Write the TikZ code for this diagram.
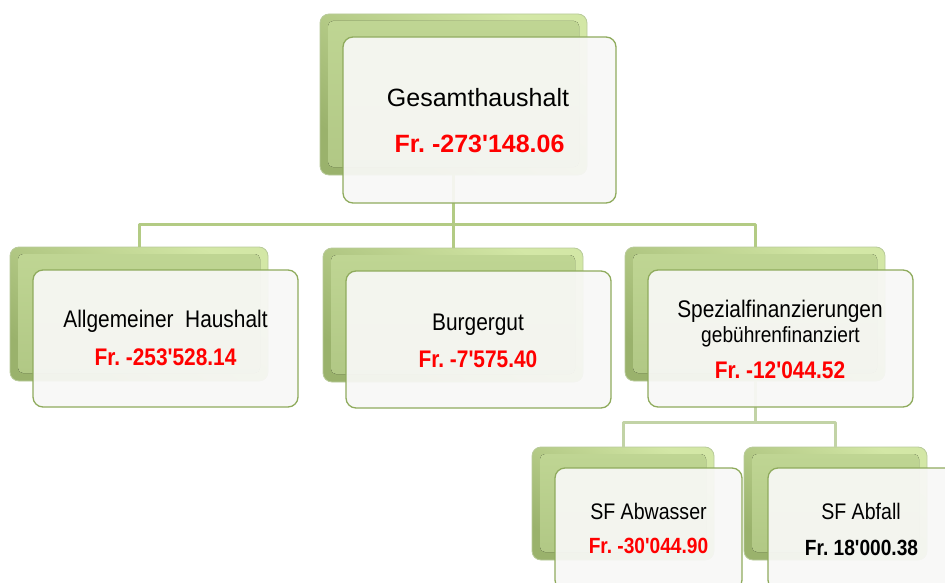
\documentclass[tikz,border=0pt]{standalone}
\usepackage{fontspec}
\setmainfont{Liberation Sans}
\newfontfamily\plain{Liberation Sans}
\newfontfamily\cond{Liberation Sans}[FakeStretch=0.87]
\frenchspacing
\definecolor{conn}{HTML}{B3CB84}
\definecolor{connb}{HTML}{C2D3A6}
\definecolor{backtop}{HTML}{D3E7A6}
\definecolor{backbot}{HTML}{9AB26C}
\definecolor{facetop}{HTML}{C0D694}
\definecolor{facebot}{HTML}{B0C784}
\definecolor{backline}{HTML}{B8CA9A}
\definecolor{frontline}{HTML}{8FAB5D}
\definecolor{frontfill}{HTML}{F8F8F6}
\definecolor{amount}{HTML}{FF0000}
\tikzset{
  backbox/.style={rectangle, rounded corners=9pt, inner sep=0pt,
    top color=backtop, bottom color=backbot, shading angle=-35,
    draw=backline, line width=0.8pt,
    path picture={\fill[top color=facetop, bottom color=facebot, rounded corners=5pt]
      ([shift={(8pt,-7pt)}]path picture bounding box.north west) rectangle
      ([shift={(-8pt,8pt)}]path picture bounding box.south east);}},
  frontbox/.style={rectangle, rounded corners=10pt, inner sep=0pt,
    fill=frontfill, fill opacity=0.93, draw=frontline, draw opacity=1,
    line width=1.3pt},
  connline/.style={draw=conn, line width=3pt, line join=round},
  connlineb/.style={draw=connb, line width=3pt, line join=round},
  lbl/.style={anchor=base, inner sep=0pt},
  toptitle/.style={lbl, font=\plain\fontsize{25}{28}\selectfont},
  topamount/.style={lbl, font=\plain\fontsize{25}{28}\selectfont\bfseries, text=amount},
  title/.style={lbl, font=\cond\fontsize{24}{28}\selectfont},
  subtitle/.style={lbl, font=\cond\fontsize{22}{26}\selectfont},
  amountm/.style={lbl, font=\cond\fontsize{24}{28}\selectfont\bfseries, text=amount},
  smtitle/.style={lbl, font=\cond\fontsize{22.5}{26}\selectfont},
  smamount/.style={lbl, font=\cond\fontsize{22}{26}\selectfont\bfseries, text=amount},
  smamountk/.style={lbl, font=\cond\fontsize{22}{26}\selectfont\bfseries, text=black},
}
\begin{document}
\begin{tikzpicture}[x=1pt,y=-1pt]
\useasboundingbox (0,0) rectangle (945,583);
\clip (0,0) rectangle (945,583);
% back boxes
\node[backbox, minimum width=267pt, minimum height=161pt] (b0) at (453.5,94.5) {};
\node[backbox, minimum width=258pt, minimum height=134pt] (b1) at (139,314) {};
\node[backbox, minimum width=260pt, minimum height=134pt] (b2) at (453,315) {};
\node[backbox, minimum width=260pt, minimum height=134pt] (b3) at (755,314) {};
\node[backbox, minimum width=182pt, minimum height=113pt] (b4) at (623,503.5) {};
\node[backbox, minimum width=183pt, minimum height=113pt] (b5) at (835.5,503.5) {};
% connectors
\coordinate (j0) at (453.5,224.5);
\coordinate (j1) at (755,422.5);
\draw[connline] (b0.south) -- (j0);
\draw[connline] (b1.north) -- (b1.north |- j0) -- (b3.north |- j0) -- (b3.north);
\draw[connline] (b2.north) -- (b2.north |- j0);
\draw[connlineb] (b3.south) -- (j1);
\draw[connlineb] (b4.north) -- (b4.north |- j1) -- (b5.north |- j1) -- (b5.north);
% front boxes
\node[frontbox, minimum width=273pt, minimum height=166pt] (f0) at (479.5,120) {};
\node[frontbox, minimum width=265pt, minimum height=137pt] (f1) at (165.5,338.5) {};
\node[frontbox, minimum width=265pt, minimum height=137pt] (f2) at (478.5,339.5) {};
\node[frontbox, minimum width=265pt, minimum height=137pt] (f3) at (780.5,338.5) {};
\node[frontbox, minimum width=187pt, minimum height=122pt] (f4) at (648.5,529) {};
\node[frontbox, minimum width=187pt, minimum height=122pt] (f5) at (861.5,529) {};
% texts
\node[toptitle] (t0) at (478,107) {Gesamthaushalt};
\node[topamount] (a0) at (479.5,153) {Fr. -273'148.06};
\node[title] (t1) at (165.5,327) {Allgemeiner~ Haushalt};
\node[amountm] (a1) at (165.5,365) {Fr. -253'528.14};
\node[title] (t2) at (478,330) {Burgergut};
\node[amountm] (a2) at (478,367) {Fr. -7'575.40};
\node[title] (t3) at (780,317) {Spezialfinanzierungen};
\node[subtitle] (s3) at (780.5,342) {gebührenfinanziert};
\node[amountm] (a3) at (780,378) {Fr. -12'044.52};
\node[smtitle] (t4) at (648.5,519) {SF Abwasser};
\node[smamount] (a4) at (648.5,553) {Fr. -30'044.90};
\node[smtitle] (t5) at (861,519) {SF Abfall};
\node[smamountk] (a5) at (861.5,555) {Fr. 18'000.38};
\end{tikzpicture}
\end{document}
